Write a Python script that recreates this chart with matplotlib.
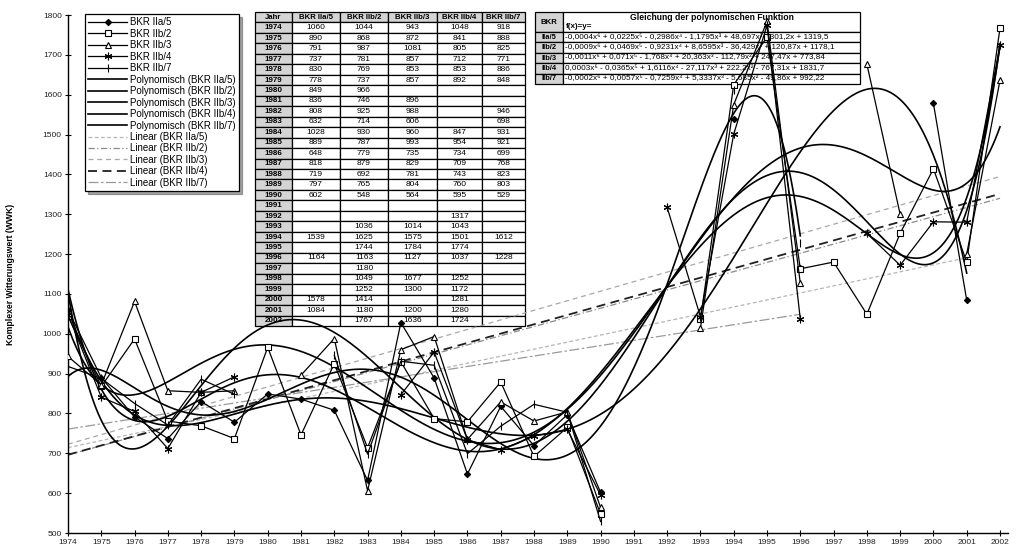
import numpy as np
import matplotlib
matplotlib.use("Agg")
import matplotlib.pyplot as plt
from matplotlib.patches import Rectangle

plt.rcParams['font.family'] = ['Liberation Sans', 'DejaVu Sans']

nan = np.nan
years = list(range(1974, 2003))

# Komplexer Witterungswert je Beobachtungsreihe (leer = kein Wert)
iia5 = [1060, 890, 791, 737, 830, 778, 849, 836, 808, 632, 1028, 889, 648, 818, 719, 797, 602,
        nan, nan, nan, 1539, nan, 1164, nan, nan, nan, 1578, 1084, nan]
iib2 = [1044, 868, 987, 781, 769, 737, 966, 746, 925, 714, 930, 787, 779, 879, 692, 765, 548,
        nan, nan, 1036, 1625, 1744, 1163, 1180, 1049, 1252, 1414, 1180, 1767]
iib3 = [943, 872, 1081, 857, 853, 857, nan, 896, 988, 606, 960, 993, 735, 829, 781, 804, 564,
        nan, nan, 1014, 1575, 1784, 1127, nan, 1677, 1300, nan, 1200, 1636]
iib4 = [1048, 841, 805, 712, 853, 892, nan, nan, nan, nan, 847, 954, 734, 709, 743, 760, 595,
        nan, 1317, 1043, 1501, 1774, 1037, nan, 1252, 1172, 1281, 1280, 1724]
iib7 = [918, 888, 825, 771, 886, 848, nan, nan, 946, 698, 931, 921, 699, 768, 823, 803, 529,
        nan, nan, nan, 1612, nan, 1228, nan, nan, nan, nan, nan, nan]

series_names = ["IIa/5", "IIb/2", "IIb/3", "IIb/4", "IIb/7"]
series_values = [iia5, iib2, iib3, iib4, iib7]

equations = [
    "-0,0004x\u2076 + 0,0225x\u2075 - 0,2986x\u2074 - 1,1795x\u00b3 + 48,697x\u00b2 - 301,2x + 1319,5",
    "-0,0009x\u2076 + 0,0469x\u2075 - 0,9231x\u2074 + 8,6595x\u00b3 - 36,429x\u00b2 + 120,87x + 1178,1",
    "-0,0011x\u2076 + 0,071x\u2075 - 1,768x\u2074 + 20,363x\u00b3 - 112,79x\u00b2 + 247,47x + 773,84",
    "0,0003x\u2076 - 0,0365x\u2075 + 1,6116x\u2074 - 27,117x\u00b3 + 222,2x\u00b2 - 767,31x + 1831,7",
    "-0,0002x\u2076 + 0,0057x\u2075 - 0,7259x\u2074 + 5,3337x\u00b3 - 5,685x\u00b2 - 49,86x + 992,22",
]

W, H = 1019, 554
fig = plt.figure(figsize=(W / 100, H / 100), dpi=100)

# pixel-space layer for the two tables
bg = fig.add_axes([0, 0, 1, 1], zorder=0)
bg.set_xlim(0, W)
bg.set_ylim(H, 0)
bg.axis('off')

GRAY = '#d4d4d4'


def cell(x, y, w, h, text='', fill='white', ha='center', size=5.2, weight='normal', pad=2):
    bg.add_patch(Rectangle((x, y), w, h, facecolor=fill, edgecolor='black', lw=0.9))
    if text:
        tx = x + w / 2 if ha == 'center' else x + pad
        bg.text(tx, y + h / 2, text, ha=ha, va='center', fontsize=size, weight=weight)


# data table
col_w = [37, 48, 48, 49, 45, 43]
x0, y0 = 255, 12
row_h = (326 - 12) / 30
header = ["Jahr"] + ["BKR " + n for n in series_names]
cx = x0
for j, t in enumerate(header):
    cell(cx, y0, col_w[j], row_h, t, fill=GRAY, weight='bold', size=5.6)
    cx += col_w[j]
for i, yr in enumerate(years):
    cy = y0 + (i + 1) * row_h
    cx = x0
    cell(cx, cy, col_w[0], row_h, str(yr), fill=GRAY, weight='bold', size=5.8)
    cx += col_w[0]
    for j, vals in enumerate(series_values):
        v = vals[i]
        cell(cx, cy, col_w[j + 1], row_h, '' if np.isnan(v) else str(int(v)), size=6)
        cx += col_w[j + 1]

# equation table
ex0, ey0 = 535, 12
ew0, ew1 = 28, 297
eh_head = 20
eh = (84 - 32) / 5
cell(ex0, ey0, ew0, eh_head, "BKR", fill=GRAY, weight='bold', size=5.6)
cell(ex0 + ew0, ey0, ew1, eh_head)
bg.text(ex0 + ew0 + ew1 / 2, ey0 + 6, "Gleichung der polynomischen Funktion",
        ha='center', va='center', fontsize=6.2, weight='bold')
bg.text(ex0 + ew0 + 3, ey0 + 15, "f(x)=y=", ha='left', va='center', fontsize=5.8, weight='bold')
for i, (n, eq) in enumerate(zip(series_names, equations)):
    cy = ey0 + eh_head + i * eh
    cell(ex0, cy, ew0, eh, n, fill=GRAY, weight='bold', size=5.4)
    cell(ex0 + ew0, cy, ew1, eh, eq, ha='left', size=5.9)

# main chart
left, right, top, bottom = 68, 1008, 15, 533
ax = fig.add_axes([left / W, 1 - bottom / H, (right - left) / W, (bottom - top) / H], zorder=1)
ax.patch.set_alpha(0)

x = np.arange(len(years))
markers = [dict(marker='D', ms=3.2, mfc='black'),
           dict(marker='s', ms=4.2, mfc='white'),
           dict(marker='^', ms=4.5, mfc='white'),
           dict(marker=(6, 2, 0), ms=5.5, mfc='black'),
           dict(marker='|', ms=5.5, mfc='black')]
lin_styles = [dict(color='#b5b5b5', lw=0.9, dashes=(3, 2)),
              dict(color='#8a8a8a', lw=0.9, dashes=(5, 2, 1, 2)),
              dict(color='#a8a8a8', lw=0.9, dashes=(4, 3)),
              dict(color='#202020', lw=1.3, dashes=(5, 3)),
              dict(color='#9a9a9a', lw=0.9, dashes=(8, 2, 2, 2))]

data_h, poly_h, lin_h = [], [], []
for name, vals, mk, ls in zip(series_names, series_values, markers, lin_styles):
    v = np.array(vals, dtype=float)
    h, = ax.plot(x, v, color='black', lw=0.9, mec='black', mew=0.8,
                 label="BKR " + name, zorder=4, **mk)
    data_h.append(h)
    ok = ~np.isnan(v)
    xs = x[ok] + 1.0
    ys = v[ok]
    grid = np.linspace(xs.min(), xs.max(), 400)
    p6 = np.polyfit(xs, ys, 6)
    h, = ax.plot(grid - 1, np.polyval(p6, grid), color='black', lw=1.2,
                 label="Polynomisch (BKR " + name + ")", zorder=3)
    poly_h.append(h)
    p1 = np.polyfit(xs, ys, 1)
    h, = ax.plot(grid - 1, np.polyval(p1, grid), label="Linear (BKR " + name + ")",
                 zorder=2, **ls)
    lin_h.append(h)

ax.set_xlim(0, 28 + 8 / 33.29)
ax.set_ylim(500, 1800)
ax.set_yticks(range(500, 1801, 100))
ax.set_xticks(x)
ax.set_xticklabels([str(y) for y in years])
ax.tick_params(axis='both', direction='inout', length=5, width=0.8, labelsize=6,
               labelcolor='#222222', pad=2)
for s in ('top', 'right'):
    ax.spines[s].set_visible(False)
for s in ('left', 'bottom'):
    ax.spines[s].set_linewidth(1.0)
ax.set_ylabel("Komplexer Witterungswert (WWK)", fontsize=6.2, weight='bold', labelpad=20)

leg = ax.legend(handles=data_h + poly_h + lin_h, loc='upper left',
                bbox_to_anchor=(85 / W, 1 - 14 / H), bbox_transform=fig.transFigure,
                borderaxespad=0, fontsize=7, handlelength=4.0, labelspacing=0.15,
                handletextpad=0.3, borderpad=0.35, fancybox=False, shadow=True,
                edgecolor='black', framealpha=1)
leg.get_frame().set_linewidth(0.9)
leg.set_zorder(10)

fig.savefig("out.png", dpi=100)
